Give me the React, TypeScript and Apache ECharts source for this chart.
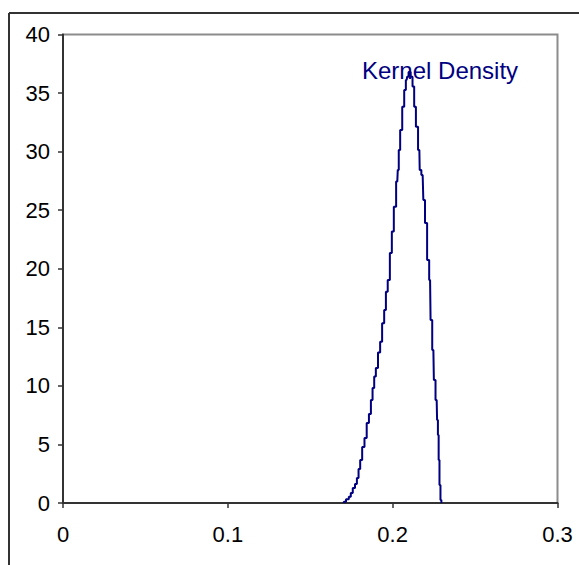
import React, { useEffect, useRef } from "react";
import * as echarts from "echarts";

const xValues = [
  0.1702, 0.1707, 0.1727, 0.1741, 0.1751, 0.1765, 0.1778, 0.1788, 0.1798, 0.1808,
  0.1822, 0.1836, 0.1849, 0.1863, 0.1873, 0.1883, 0.1893, 0.1903, 0.1919, 0.1929,
  0.1943, 0.1954, 0.1964, 0.1976, 0.199, 0.2, 0.2014, 0.2028, 0.2034, 0.204,
  0.2051, 0.2065, 0.2075, 0.2085, 0.2091, 0.2102, 0.2116, 0.2125, 0.2136, 0.2146,
  0.2162, 0.2166, 0.2182, 0.219, 0.2202, 0.2216, 0.2227, 0.2233, 0.2247, 0.2253,
  0.2267, 0.2272, 0.2277, 0.2281, 0.2287, 0.2293, 0.2298,
];
const densityValues = [
  0, 0.11, 0.32, 0.54, 0.85, 1.28, 1.62, 2.13, 2.9, 3.67,
  4.78, 5.55, 6.83, 7.6, 8.8, 9.82, 10.79, 11.53, 12.84, 13.77,
  15.35, 16.48, 18.04, 19.04, 21.35, 23.17, 25.3, 27.44, 28.44, 30.14,
  31.85, 33.84, 35.27, 36.12, 36.4, 36.8, 36.4, 35.55, 33.84, 32.13,
  30.14, 28.44, 28.01, 25.88, 23.91, 20.75, 19.04, 15.63, 13.07, 10.5,
  8.8, 7.09, 5.81, 3.67, 1.54, 0.26, 0,
];
const seriesName = "Kernel Density";
const xTicks = [0, 0.1, 0.2, 0.3];
const yTicks = [0, 5, 10, 15, 20, 25, 30, 35, 40];

const FONT = "Arial, 'Liberation Sans', sans-serif";

export default function App() {
  const ref = useRef<HTMLDivElement>(null);
  useEffect(() => {
    document.body.style.margin = "0";
    if (!ref.current) return;
    const chart = echarts.init(ref.current, undefined, { renderer: "svg" });
    const data = xValues.map((x, i) => [x, densityValues[i]]);
    chart.setOption({
      animation: false,
      backgroundColor: "#ffffff",
      grid: {
        left: 63,
        top: 34.5,
        right: 21.5,
        bottom: 62,
        show: true,
        borderColor: "#8c8c8c",
        borderWidth: 2,
        backgroundColor: "transparent",
      },
      xAxis: {
        type: "value",
        min: xTicks[0],
        max: xTicks[xTicks.length - 1],
        interval: 0.1,
        splitLine: { show: false },
        axisLine: { show: true, onZero: false, lineStyle: { color: "#333333", width: 2 } },
        axisTick: { show: true, length: 5, lineStyle: { color: "#333333", width: 1.5 } },
        axisLabel: {
          color: "#000",
          fontSize: 22,
          fontFamily: FONT,
          margin: 20,
          formatter: (v: number) => String(Math.round(v * 10) / 10),
        },
      },
      yAxis: {
        type: "value",
        min: yTicks[0],
        max: yTicks[yTicks.length - 1],
        interval: 5,
        splitLine: { show: false },
        axisLine: { show: true, lineStyle: { color: "#333333", width: 2 } },
        axisTick: { show: true, length: 5, lineStyle: { color: "#333333", width: 1.5 } },
        axisLabel: {
          color: "#000",
          fontSize: 22,
          fontFamily: FONT,
          margin: 13,
        },
      },
      graphic: [
        {
          type: "line",
          shape: { x1: 9, y1: 13, x2: 579, y2: 13 },
          style: { stroke: "#333333", lineWidth: 2 },
        },
        {
          type: "line",
          shape: { x1: 9, y1: 13, x2: 9, y2: 565 },
          style: { stroke: "#333333", lineWidth: 2 },
        },
        {
          type: "text",
          x: 362,
          y: 58,
          z: 10,
          style: {
            text: seriesName,
            fill: "#000080",
            fontSize: 24,
            fontFamily: FONT,
            textVerticalAlign: "top",
          },
        },
      ],
      series: [
        {
          name: seriesName,
          type: "line",
          data,
          step: "middle",
          showSymbol: false,
          lineStyle: { color: "#000080", width: 2 },
          z: 5,
        },
      ],
    });
    return () => chart.dispose();
  }, []);
  return <div ref={ref} style={{ width: 579, height: 565 }} />;
}
